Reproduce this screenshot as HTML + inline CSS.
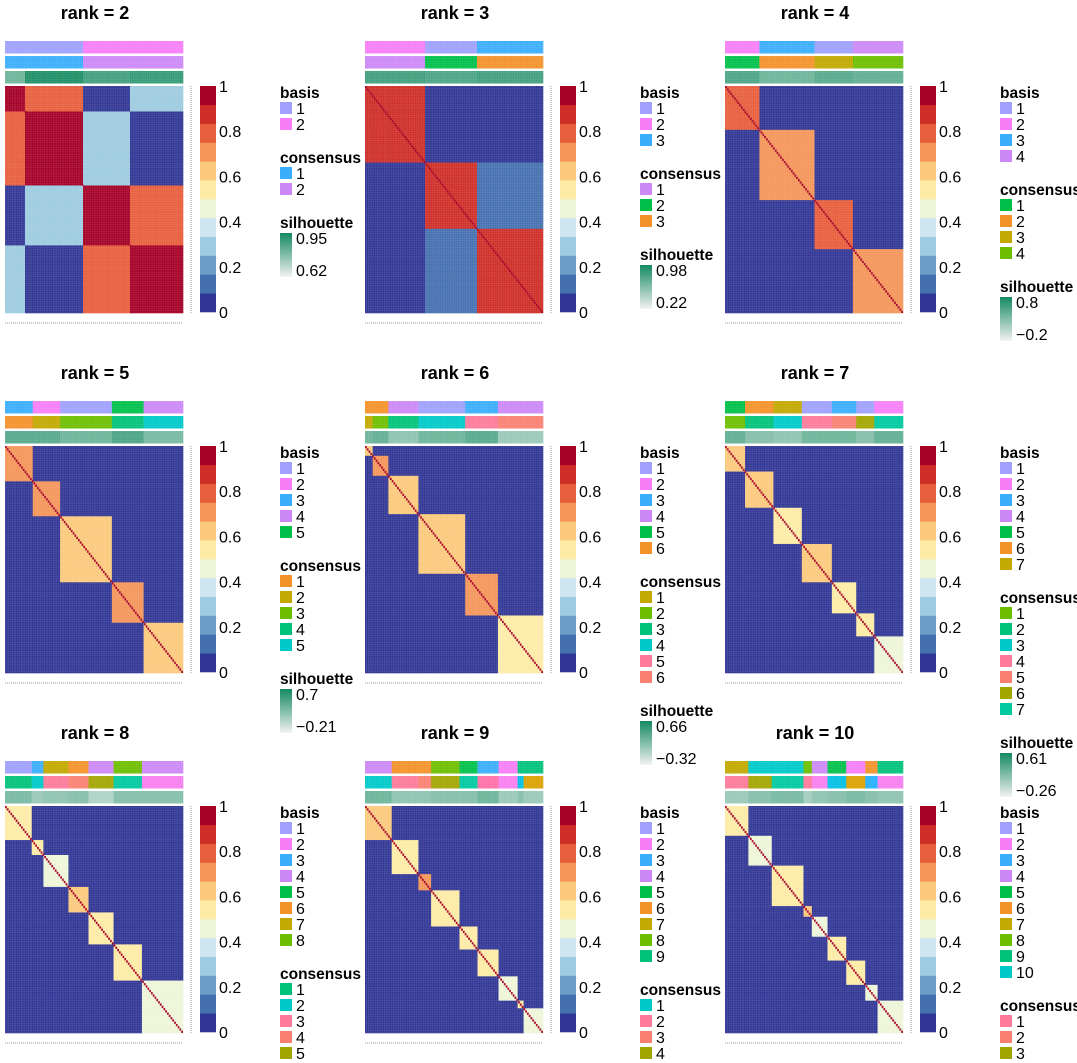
<!DOCTYPE html>
<html><head><meta charset="utf-8">
<style>
html,body{margin:0;padding:0;background:#fff;}
svg{display:block;font-family:"Liberation Sans",Arial,sans-serif;}
</style></head>
<body>
<svg id="chart" width="1077" height="1063" viewBox="0 0 1077 1063">
<defs>
<pattern id="grid" width="1.78" height="2.27" patternUnits="userSpaceOnUse">
<path d="M1.78 0V2.27M0 2.27H1.78" stroke="#ffffff" stroke-opacity="0.28" stroke-width="0.45" fill="none"/>
</pattern>
<linearGradient id="silgrad" x1="0" y1="0" x2="0" y2="1">
<stop offset="0" stop-color="#138a60"/><stop offset="1" stop-color="#f2f2f2"/>
</linearGradient>
</defs>
</svg>
<script>
// ---- data ----
const ranks = [2,3,4,5,6,7,8,9,10];
const sizesR2 = [20,58,47,53];
const sizesR3 = [60,52,66];
const sizesR4 = [103,165,115,150];
const sizesR5 = [83,82,155,95,118];
const sizesR6 = [23,47,90,140,98,135];
const sizesR7 = [60,85,85,90,73,54,86];
const sizesR8 = [80,35,75,60,75,85,123];
const sizesR9 = [80,80,38,85,54,63,57,18,58];
const sizesR10 = [70,70,95,25,47,56,57,37,76];
const matrixR2 = [[1,0.76,0.02,0.25],[0.76,1,0.25,0.02],[0.02,0.25,1,0.76],[0.25,0.02,0.76,1]];
const matrixR3 = [[0.86,0.05,0.07],[0.05,0.86,0.14],[0.07,0.14,0.86]];
const withinR4 = [0.8,0.7,0.75,0.72];
const withinR5 = [0.7,0.7,0.64,0.72,0.62];
const withinR6 = [0.6,0.72,0.6,0.6,0.72,0.55];
const withinR7 = [0.62,0.6,0.5,0.62,0.55,0.5,0.45];
const withinR8 = [0.55,0.5,0.45,0.6,0.5,0.55,0.45];
const withinR9 = [0.6,0.5,0.72,0.5,0.55,0.5,0.45,0.5,0.45];
const withinR10 = [0.5,0.45,0.5,0.62,0.45,0.55,0.5,0.45,0.45];
const betweenVals = [0,0,0.06,0.07,0.08,0.08,0.08,0.08,0.08];
const basisBlocksR2 = [1,1,2,2];
const basisBlocksR3 = [2,1,3];
const basisBlocksR4 = [2,3,1,4];
const basisBlocksR5 = [3,2,1,5,4];
const basisBlocksR6 = [6,6,4,1,3,4];
const basisBlocksR7 = [5,6,7,1,3,1,2];
const basisBlocksR8 = [1,3,7,6,4,8,4];
const basisBlocksR9 = [4,6,6,8,5,3,2,9,9];
const basisBlocksR10 = [7,10,10,8,4,5,2,6,9];
const consBlocksR2 = [0,0,1,1];
const consBlocksR3 = [0,1,2];
const consBlocksR4 = [0,1,2,3];
const consBlocksR5 = [0,1,2,3,4];
const consBlocksR6 = [0,1,2,3,4,5];
const consBlocksR7 = [0,1,2,3,4,5,6];
const consBlocksR8 = [0,1,2,3,4,5,6];
const consBlocksR9 = [0,1,2,3,4,5,6,7,8];
const consBlocksR10 = [0,2,3,0,4,5,6,7,8];
const silBlocksR2 = [0.6,0.95,0.8,0.85];
const silBlocksR3 = [0.8,0.75,0.8];
const silBlocksR4 = [0.75,0.6,0.7,0.65];
const silBlocksR5 = [0.7,0.7,0.6,0.75,0.55];
const silBlocksR6 = [0.6,0.65,0.45,0.6,0.7,0.4];
const silBlocksR7 = [0.65,0.5,0.45,0.6,0.6,0.5,0.65];
const silBlocksR8 = [0.55,0.4,0.45,0.5,0.3,0.5,0.5];
const silBlocksR9 = [0.6,0.45,0.45,0.5,0.5,0.6,0.4,0.5,0.4];
const silBlocksR10 = [0.4,0.5,0.55,0.35,0.45,0.5,0.55,0.5,0.45];
const silLabels = [["0.95","0.62"],["0.98","0.22"],["0.8","\u22120.2"],["0.7","\u22120.21"],["0.66","\u22120.32"],["0.61","\u22120.26"],null,null,null];
const consLegendR2 = ["#3aaefc","#cc88f7"];
const consLegendR3 = ["#cc88f7","#00c04a","#f4922a"];
const consLegendR4 = ["#00c04a","#f4922a","#c2a800","#6dbe00"];
const consLegendR5 = ["#f4922a","#c2a800","#6dbe00","#00c27a","#00c9c9"];
const consLegendR6 = ["#c2a800","#6dbe00","#00c27a","#00c9c9","#fd7a9a","#fa8072"];
const consLegendR7 = ["#6dbe00","#00c27a","#00c9c9","#fd7a9a","#fa8072","#a3a500","#00c9a0"];
const consLegendR8 = ["#00c27a","#00c9c9","#fd7a9a","#fa8072","#a3a500","#00c9a0","#f77ef0","#00bfe4"];
const consLegendR9 = ["#00c9c9","#fd7a9a","#fa8072","#a3a500","#00c9a0","#fe6fa6","#f77ef0","#00bfe4","#dba100"];
const consLegendR10 = ["#fd7a9a","#fa8072","#a3a500","#00c9a0","#f77ef0","#00bfe4","#dba100","#22b0ff","#f77ef0","#00c27a"];
const consShownCount = [2,3,4,5,6,7,5,4,3];
const basisPalette = ["#9fa0ff","#f77ef7","#3aaefc","#cc88f7","#00c04a","#f4922a","#c2a800","#6dbe00","#00c27a","#00c9c9"];
const heatColors = ["#313695","#4570b0","#6b9ec8","#9dcbe0","#cde6ef","#eef5d8","#fdeba6","#fbc97c","#f4955a","#e75e3c","#cf2e28","#a50026"];
const colorTicks = [0,0.2,0.4,0.6,0.8,1];
const colorTickLabels = ["0","0.2","0.4","0.6","0.8","1"];

const sizesAll=[sizesR2,sizesR3,sizesR4,sizesR5,sizesR6,sizesR7,sizesR8,sizesR9,sizesR10];
const withinAll=[null,null,withinR4,withinR5,withinR6,withinR7,withinR8,withinR9,withinR10];
const matrixAll=[matrixR2,matrixR3];
const basisAll=[basisBlocksR2,basisBlocksR3,basisBlocksR4,basisBlocksR5,basisBlocksR6,basisBlocksR7,basisBlocksR8,basisBlocksR9,basisBlocksR10];
const consAll=[consBlocksR2,consBlocksR3,consBlocksR4,consBlocksR5,consBlocksR6,consBlocksR7,consBlocksR8,consBlocksR9,consBlocksR10];
const silAll=[silBlocksR2,silBlocksR3,silBlocksR4,silBlocksR5,silBlocksR6,silBlocksR7,silBlocksR8,silBlocksR9,silBlocksR10];
const consLegAll=[consLegendR2,consLegendR3,consLegendR4,consLegendR5,consLegendR6,consLegendR7,consLegendR8,consLegendR9,consLegendR10];

const NS="http://www.w3.org/2000/svg";
const svg=document.getElementById('chart');
function mk(tag,attrs,parent){const e=document.createElementNS(NS,tag);for(const k in attrs)e.setAttribute(k,attrs[k]);(parent||svg).appendChild(e);return e;}
function heatColor(v){let b=Math.floor(v*12);if(b>11)b=11;if(b<0)b=0;return heatColors[b];}
function mix(a,b,t){const pa=[1,3,5].map(i=>parseInt(a.substr(i,2),16)),pb=[1,3,5].map(i=>parseInt(b.substr(i,2),16));return 'rgb('+pa.map((x,i)=>Math.round(x+(pb[i]-x)*t)).join(',')+')';}
function silColor(v){return mix("#f2f2f2","#138a60",v);}

const HM_W=178, HM_H=227;
ranks.forEach((rank,ri)=>{
  const ox=(ri%3)*360, oy=Math.floor(ri/3)*360;
  const g=mk('g',{});
  
  
  const title=mk('text',{x:ox+95,y:oy+19,'text-anchor':'middle','font-size':18,'font-weight':'bold',fill:'#000'},g);
  title.textContent='rank =  '+rank;
  
  
  const sizes=sizesAll[ri];
  const tot=sizes.reduce((a,b)=>a+b,0);
  const xs=[0];sizes.forEach(s=>xs.push(xs[xs.length-1]+s/tot));
  const hx=ox+5, hy=oy+86;
  const xScale=f=>hx+f*HM_W, yScale=f=>hy+f*HM_H;
  const bars=[{y:oy+41,name:'basis-annotation-bar',col:i=>basisPalette[basisAll[ri][i]-1]},
              {y:oy+56,name:'consensus-annotation-bar',col:i=>consLegAll[ri][consAll[ri][i]]},
              {y:oy+71,name:'silhouette-annotation-bar',col:i=>silColor(silAll[ri][i])}];
  bars.forEach(b=>{
    const bg=mk('g',{},g);
    
    
    sizes.forEach((s,i)=>{
      const r=mk('rect',{x:xScale(xs[i]),y:b.y,width:xScale(xs[i+1])-xScale(xs[i])+0.3,height:12.5,fill:b.col(i)},bg);
      
      
    });
    mk('rect',{x:hx,y:b.y,width:HM_W,height:12.5,fill:'url(#grid)'},bg);
  });
  const hg=mk('g',{},g);
  
  
  const k=sizes.length;
  for(let i=0;i<k;i++)for(let j=0;j<k;j++){
    let v;
    if(matrixAll[ri]) v=matrixAll[ri][i][j];
    else v=(i===j)?withinAll[ri][i]:betweenVals[ri];
    const r=mk('rect',{x:xScale(xs[j]),y:yScale(xs[i]),width:xScale(xs[j+1])-xScale(xs[j])+0.3,height:yScale(xs[i+1])-yScale(xs[i])+0.3,fill:heatColor(v)},hg);
    
    
  }
  const n=100;
  for(let d=0;d<n;d++){
    const r=mk('rect',{x:xScale(d/n),y:yScale(d/n),width:HM_W/n,height:HM_H/n,fill:heatColor(1)},hg);
    
    
  }
  mk('rect',{x:hx,y:hy,width:HM_W,height:HM_H,fill:'url(#grid)'},hg);
  mk('line',{x1:hx,y1:oy+323,x2:hx+HM_W,y2:oy+323,stroke:'#aaa','stroke-width':1.2,'stroke-dasharray':'1 1'},g);
  mk('line',{x1:ox+191,y1:hy,x2:ox+191,y2:hy+HM_H,stroke:'#aaa','stroke-width':1.2,'stroke-dasharray':'1 1'},g);
  const cb=mk('g',{},g);
  
  
  const cbY=v=>oy+312-v*226;
  heatColors.forEach((c,i)=>{
    mk('rect',{x:ox+200,y:cbY((i+1)/12),width:16,height:226/12+0.3,fill:c},cb);
  });
  colorTicks.forEach((t,i)=>{
    const tx=mk('text',{x:ox+219,y:cbY(t)+6,'font-size':16,fill:'#000'},cb);
    tx.textContent=colorTickLabels[i];
    
    
  });
  const lx=ox+280; let ly=oy+92;
  const lg=mk('g',{},g);
  
  
  function section(name,colors,count){
    const t=mk('text',{x:lx,y:ly+6,'font-size':15.5,'font-weight':'bold'},lg);
    t.textContent=name;
    
    
    for(let i=0;i<count;i++){
      const yy=ly+16*(i+1);
      mk('rect',{x:lx,y:yy-6,width:12,height:12,fill:colors[i]},lg);
      const et=mk('text',{x:lx+16,y:yy+6,'font-size':16},lg);
      et.textContent=String(i+1);
      
      
    }
    ly+=16*count+33;
  }
  section('basis',basisPalette,rank);
  section('consensus',consLegAll[ri],consShownCount[ri]);
  if(silLabels[ri]){
    const t=mk('text',{x:lx,y:ly+6,'font-size':15.5,'font-weight':'bold'},lg);
    t.textContent='silhouette';
    
    
    mk('rect',{x:lx,y:ly+11,width:12,height:44,fill:'url(#silgrad)'},lg);
    const a=mk('text',{x:lx+16,y:ly+22,'font-size':16},lg);a.textContent=silLabels[ri][0];
    
    
    const b=mk('text',{x:lx+16,y:ly+54,'font-size':16},lg);b.textContent=silLabels[ri][1];
    
    
  }
});
</script>
</body></html>
